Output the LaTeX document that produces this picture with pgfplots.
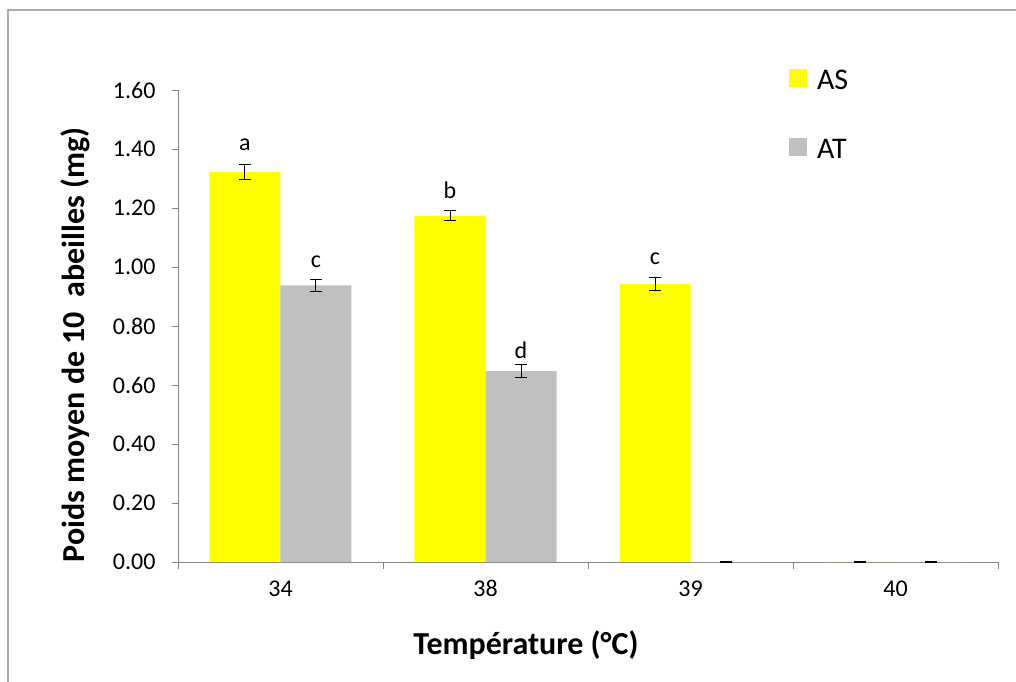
\documentclass[border=0pt]{standalone}
\usepackage{fontspec}
\setmainfont{Carlito}
\usepackage{pgfplots}
\pgfplotsset{compat=1.18}
\definecolor{barY}{RGB}{255,255,0}
\definecolor{barG}{RGB}{192,192,192}
\definecolor{axgray}{RGB}{134,134,134}
\definecolor{framegray}{RGB}{170,170,170}
\begin{document}
\begin{tikzpicture}
\useasboundingbox (-178bp,-120bp) rectangle (838bp,562bp);
\draw[framegray, line width=1.2bp] (-170bp,-120bp) -- (-170bp,552bp) -- (838bp,552bp);
\begin{axis}[
  at={(0,0)}, anchor=south west,
  scale only axis, width=820bp, height=472bp,
  xmin=-0.5, xmax=3.5, ymin=0, ymax=1.6,
  axis x line*=bottom, axis y line*=left,
  axis line style={axgray, line width=0.8bp, -},
  ybar=0pt, bar width=71bp,
  xtick={0,1,2,3}, xticklabels={34,38,39,40},
  minor xtick={-0.5,0.5,1.5,2.5,3.5},
  major x tick style={draw=none},
  minor x tick style={axgray, line width=0.8bp},
  minor tick length=7bp,
  ytick={0,0.2,...,1.6},
  ytick style={axgray, line width=0.8bp},
  major tick length=6bp,
  tick align=outside,
  yticklabel style={/pgf/number format/fixed, /pgf/number format/precision=2, /pgf/number format/fixed zerofill},
  /pgf/number format/assume math mode=true,
  tick label style={font=\fontsize{24bp}{26bp}\selectfont, text=black},
  xticklabel style={yshift=-9bp},
  yticklabel style={xshift=-13bp},
  xlabel={\textbf{Température (°C)}},
  ylabel={\textbf{Poids moyen de 10\ \ abeilles (mg)}},
  label style={font=\fontsize{32bp}{34bp}\selectfont},
  xlabel style={at={(axis description cs:0.4244,0)}, anchor=center, yshift=-83bp},
  ylabel style={at={(axis description cs:0,0.46)}, anchor=center, xshift=0bp, yshift=103bp},
  legend style={draw=none, fill=none, at={(0.745,1.0466)}, anchor=north west, inner sep=0pt,
    font=\fontsize{30bp}{32bp}\selectfont, row sep=48bp, legend cell align=left,
    nodes={inner sep=0pt, text height=21bp, text depth=0pt}},
  legend image code/.code={\fill[#1] (0bp,-8.5bp) rectangle (18bp,9.5bp); \path (28bp,0bp);},
  error bars/y dir=both, error bars/y explicit,
  error bars/error bar style={black, line width=1bp},
  error bars/error mark options={rotate=90, mark size=6bp, line width=1bp, black},
]
\addplot[fill=barY, draw=none] coordinates {
  (0,1.322) +- (0,0.025)
  (1,1.173) +- (0,0.017)
  (2,0.943) +- (0,0.022)
  (3,0.0) +- (0,0.003)
};
\addplot[fill=barG, draw=none] coordinates {
  (0,0.938) +- (0,0.020)
  (1,0.647) +- (0,0.022)
  (2,0.0) +- (0,0.003)
  (3,0.0) +- (0,0.003)
};
\legend{AS,AT}
\node[font=\fontsize{24bp}{26bp}\selectfont] at (axis cs:-0.1732,1.414) {a};
\node[font=\fontsize{24bp}{26bp}\selectfont] at (axis cs:0.1732,1.017) {c};
\node[font=\fontsize{24bp}{26bp}\selectfont] at (axis cs:0.8268,1.261) {b};
\node[font=\fontsize{24bp}{26bp}\selectfont] at (axis cs:1.1732,0.719) {d};
\node[font=\fontsize{24bp}{26bp}\selectfont] at (axis cs:1.8268,1.027) {c};
\end{axis}
\end{tikzpicture}
\end{document}
